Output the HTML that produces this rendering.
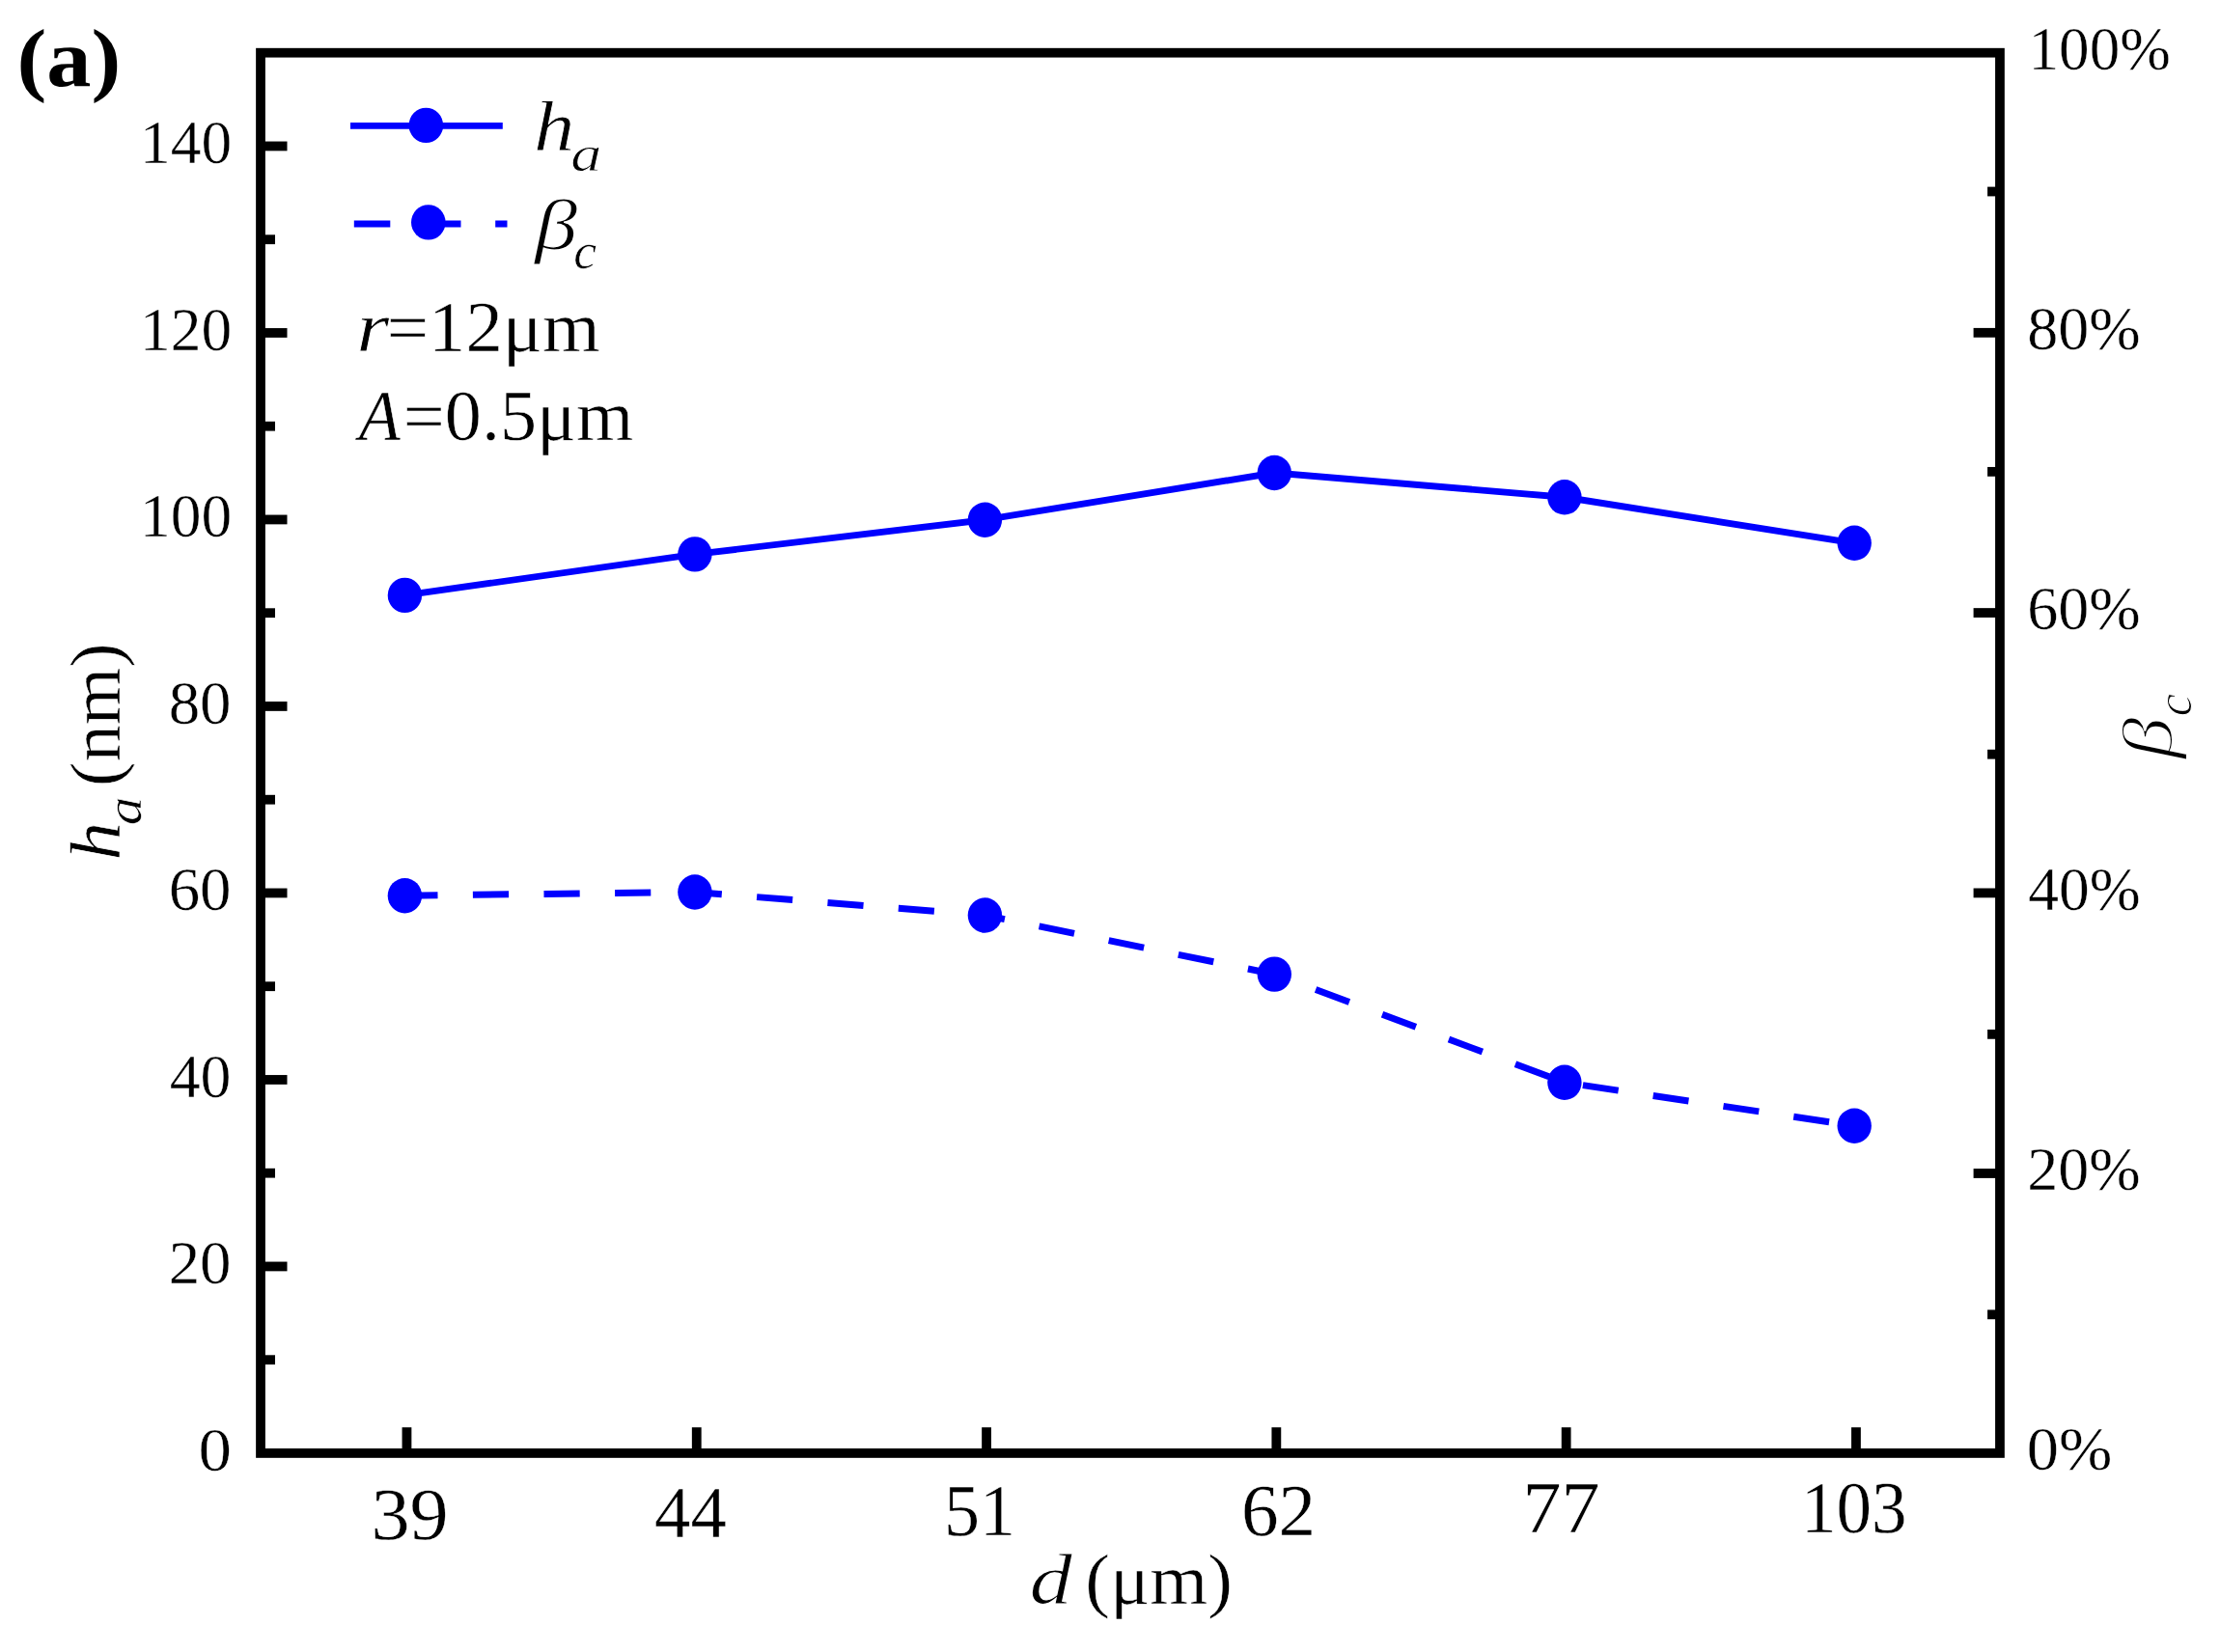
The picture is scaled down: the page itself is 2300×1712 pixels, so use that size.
<!DOCTYPE html>
<html lang="en"><head><meta charset="utf-8"><title>Figure (a)</title>
<style>html,body{margin:0;padding:0;background:#fff}body{width:2300px;height:1712px;overflow:hidden}svg{display:block}</style>
</head><body>
<svg width="2300" height="1712" viewBox="0 0 2300 1712">
<rect x="0" y="0" width="2300" height="1712" fill="#fff"/>
<g stroke="#000" stroke-width="9.8" fill="none">
<line x1="270.0" y1="1312.45" x2="297.5" y2="1312.45"/>
<line x1="270.0" y1="1118.95" x2="297.5" y2="1118.95"/>
<line x1="270.0" y1="925.45" x2="297.5" y2="925.45"/>
<line x1="270.0" y1="731.95" x2="297.5" y2="731.95"/>
<line x1="270.0" y1="538.45" x2="297.5" y2="538.45"/>
<line x1="270.0" y1="344.95" x2="297.5" y2="344.95"/>
<line x1="270.0" y1="151.45" x2="297.5" y2="151.45"/>
<line x1="270.0" y1="1409.20" x2="285" y2="1409.20"/>
<line x1="270.0" y1="1215.70" x2="285" y2="1215.70"/>
<line x1="270.0" y1="1022.20" x2="285" y2="1022.20"/>
<line x1="270.0" y1="828.70" x2="285" y2="828.70"/>
<line x1="270.0" y1="635.20" x2="285" y2="635.20"/>
<line x1="270.0" y1="441.70" x2="285" y2="441.70"/>
<line x1="270.0" y1="248.20" x2="285" y2="248.20"/>
<line x1="2044.6" y1="1216.00" x2="2071.95" y2="1216.00"/>
<line x1="2044.6" y1="925.40" x2="2071.95" y2="925.40"/>
<line x1="2044.6" y1="635.05" x2="2071.95" y2="635.05"/>
<line x1="2044.6" y1="344.80" x2="2071.95" y2="344.80"/>
<line x1="2059.1" y1="1362.30" x2="2071.95" y2="1362.30"/>
<line x1="2059.1" y1="1071.85" x2="2071.95" y2="1071.85"/>
<line x1="2059.1" y1="781.70" x2="2071.95" y2="781.70"/>
<line x1="2059.1" y1="488.85" x2="2071.95" y2="488.85"/>
<line x1="2059.1" y1="198.50" x2="2071.95" y2="198.50"/>
<line x1="421.45" y1="1479.2" x2="421.45" y2="1505.95"/>
<line x1="721.75" y1="1479.2" x2="721.75" y2="1505.95"/>
<line x1="1022.05" y1="1479.2" x2="1022.05" y2="1505.95"/>
<line x1="1322.35" y1="1479.2" x2="1322.35" y2="1505.95"/>
<line x1="1622.65" y1="1479.2" x2="1622.65" y2="1505.95"/>
<line x1="1922.95" y1="1479.2" x2="1922.95" y2="1505.95"/>
</g>
<rect x="270.0" y="54.7" width="1801.95" height="1451.25" fill="none" stroke="#000" stroke-width="9.75"/>
<g fill="none" stroke="#0000ff">
<polyline points="419.4,616.9 719.9,574.4 1020.4,538.7 1320.3,490.0 1620.9,515.3 1921.2,562.8" stroke-width="6.9"/>
<polyline points="419.4,928.2 719.9,924.5 1020.4,948.5 1320.3,1009.6 1620.9,1121.8 1921.2,1166.7" stroke-width="7" stroke-dasharray="37.2 36.4" stroke-dashoffset="3.1"/>
<line x1="363" y1="130.4" x2="520.8" y2="130.4" stroke-width="6.8"/>
<line x1="366.8" y1="232" x2="525.5" y2="232" stroke-width="7" stroke-dasharray="37.5 35.7"/>
</g>
<g fill="#0000ff">
<ellipse cx="419.4" cy="616.9" rx="17.7" ry="18.2"/>
<ellipse cx="719.9" cy="574.4" rx="17.7" ry="18.2"/>
<ellipse cx="1020.4" cy="538.7" rx="17.7" ry="18.2"/>
<ellipse cx="1320.3" cy="490.0" rx="17.7" ry="18.2"/>
<ellipse cx="1620.9" cy="515.3" rx="17.7" ry="18.2"/>
<ellipse cx="1921.2" cy="562.8" rx="17.7" ry="18.2"/>
<ellipse cx="419.4" cy="928.2" rx="17.7" ry="18.2"/>
<ellipse cx="719.9" cy="924.5" rx="17.7" ry="18.2"/>
<ellipse cx="1020.4" cy="948.5" rx="17.7" ry="18.2"/>
<ellipse cx="1320.3" cy="1009.6" rx="17.7" ry="18.2"/>
<ellipse cx="1620.9" cy="1121.8" rx="17.7" ry="18.2"/>
<ellipse cx="1921.2" cy="1166.7" rx="17.7" ry="18.2"/>
<ellipse cx="441.35" cy="129.9" rx="17.8" ry="18.2"/>
<ellipse cx="443.8" cy="230.4" rx="17.8" ry="18.2"/>
</g>
<g font-family="'Liberation Serif', serif" fill="#000">
<text transform="translate(17.55,88.50) scale(1.0868,1)" font-size="85" font-weight="bold">(a)</text>
<text transform="translate(205.55,1523.55) scale(1.0846,1)" font-size="63.5" stroke="#fff" stroke-width="0.4">0</text>
<text transform="translate(174.63,1330.05) scale(1.0224,1)" font-size="63.5" stroke="#fff" stroke-width="0.4">20</text>
<text transform="translate(175.69,1136.55) scale(1.0051,1)" font-size="63.5" stroke="#fff" stroke-width="0.4">40</text>
<text transform="translate(174.63,943.05) scale(1.0224,1)" font-size="63.5" stroke="#fff" stroke-width="0.4">60</text>
<text transform="translate(174.63,749.55) scale(1.0224,1)" font-size="63.5" stroke="#fff" stroke-width="0.4">80</text>
<text transform="translate(145.11,556.05) scale(0.9988,1)" font-size="63.5" stroke="#fff" stroke-width="0.4">100</text>
<text transform="translate(145.11,362.55) scale(0.9988,1)" font-size="63.5" stroke="#fff" stroke-width="0.4">120</text>
<text transform="translate(145.11,169.05) scale(0.9988,1)" font-size="63.5" stroke="#fff" stroke-width="0.4">140</text>
<text transform="translate(2099.66,1523.25) scale(1.0468,1)" font-size="63.5" stroke="#fff" stroke-width="0.4">0%</text>
<text transform="translate(2100.27,1233.30) scale(1.0090,1)" font-size="63.5" stroke="#fff" stroke-width="0.4">20%</text>
<text transform="translate(2101.30,942.70) scale(1.0000,1)" font-size="63.5" stroke="#fff" stroke-width="0.4">40%</text>
<text transform="translate(2100.27,652.35) scale(1.0090,1)" font-size="63.5" stroke="#fff" stroke-width="0.4">60%</text>
<text transform="translate(2100.27,362.10) scale(1.0090,1)" font-size="63.5" stroke="#fff" stroke-width="0.4">80%</text>
<text transform="translate(2101.53,72.00) scale(0.9943,1)" font-size="63.5" stroke="#fff" stroke-width="0.4">100%</text>
<text transform="translate(384.44,1595.40) scale(1.0647,1)" font-size="75.3" stroke="#fff" stroke-width="0.4">39</text>
<text transform="translate(678.12,1593.20) scale(0.9917,1)" font-size="75.3" stroke="#fff" stroke-width="0.4">44</text>
<text transform="translate(977.88,1590.50) scale(0.9846,1)" font-size="75.3" stroke="#fff" stroke-width="0.4">51</text>
<text transform="translate(1285.89,1590.60) scale(1.0269,1)" font-size="75.3" stroke="#fff" stroke-width="0.4">62</text>
<text transform="translate(1577.48,1587.80) scale(1.0632,1)" font-size="75.3" stroke="#fff" stroke-width="0.4">77</text>
<text transform="translate(1866.01,1587.90) scale(0.9699,1)" font-size="75.3" stroke="#fff" stroke-width="0.4">103</text>
<text transform="translate(553.10,156.20) scale(1.1333,1)" font-size="74.8" font-style="italic" stroke="#fff" stroke-width="0.8">h</text><text transform="translate(591.15,176.60) scale(1.2000,1)" font-size="53.5" font-style="italic" stroke="#fff" stroke-width="0.8">a</text>
<text transform="translate(553.90,257.60) scale(1.2000,1)" font-size="74" font-style="italic" stroke="#fff" stroke-width="1.2">β</text><text transform="translate(594.19,278.20) scale(1.0048,1)" font-size="53.5" font-style="italic" stroke="#fff" stroke-width="0.6">c</text>
<text transform="translate(369.33,364.30) scale(1.1680,1)" font-size="75" font-style="italic" stroke="#fff" stroke-width="0.8">r</text><text transform="translate(400.81,364.30) scale(1.0229,1)" font-size="75" stroke="#fff" stroke-width="0.5">=12μm</text>
<text transform="translate(371.84,456.00) scale(0.9400,1)" font-size="75" font-style="italic" stroke="#fff" stroke-width="0.5">A</text><text transform="translate(417.84,456.00) scale(1.0162,1)" font-size="75" stroke="#fff" stroke-width="0.5">=0.5μm</text>
<text transform="translate(1066.40,1662.20) scale(1.2000,1)" font-size="74" font-style="italic" stroke="#fff" stroke-width="1.0">d</text> <text transform="translate(1124.28,1662.20) scale(1.0562,1)" font-size="73" stroke="#fff" stroke-width="0.5">(μm)</text>
<text transform="translate(124.00,891.80) rotate(-90) scale(1.0677,1)" font-size="74.8" font-style="italic" stroke="#fff" stroke-width="0.6">h</text><text transform="translate(146.00,855.32) rotate(-90) scale(1.1091,1)" font-size="53.5" font-style="italic" stroke="#fff" stroke-width="0.6">a</text> <text transform="translate(124.00,815.04) rotate(-90) scale(1.0346,1)" font-size="74" stroke="#fff" stroke-width="0.5">(nm)</text>
<text transform="translate(2250.30,786.40) rotate(-90) scale(1.1778,1)" font-size="74" font-style="italic" stroke="#fff" stroke-width="2.0">β</text><text transform="translate(2270.20,742.59) rotate(-90) scale(0.9950,1)" font-size="53.5" font-style="italic" stroke="#fff" stroke-width="1.0">c</text>
</g>
</svg>
</body></html>
